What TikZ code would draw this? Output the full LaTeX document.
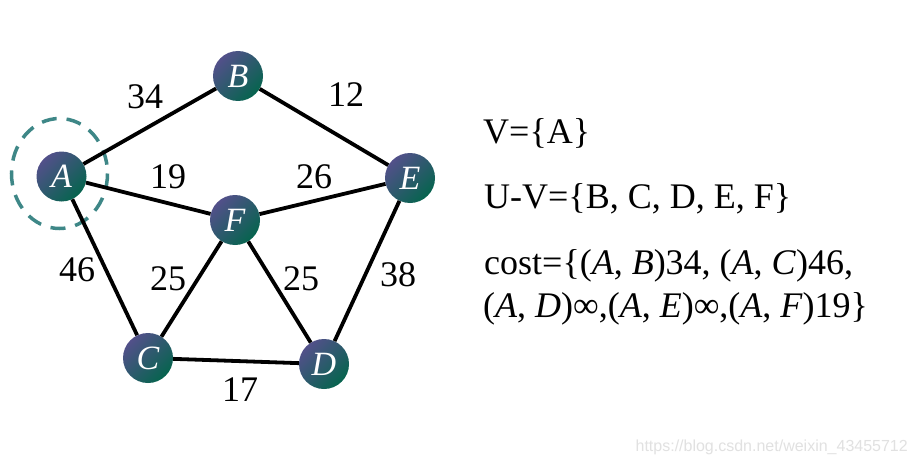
\documentclass[tikz,border=0pt]{standalone}
\usepackage{fontspec}
\setmainfont{Liberation Serif}
\newfontfamily\wmfont{Liberation Sans}
\definecolor{nodetop}{RGB}{82,80,138}
\definecolor{nodebot}{RGB}{6,100,78}
\definecolor{ringcol}{RGB}{62,135,135}
\definecolor{wmcol}{RGB}{225,225,225}
\tikzset{
  vert/.style={circle, minimum size=50pt, inner sep=0pt, top color=nodetop, bottom color=nodebot, shading angle=45, text=white, font=\fontsize{34}{38}\selectfont\itshape},
  edge/.style={line width=3.8pt, black},
  wlab/.style={inner sep=0pt, font=\fontsize{36}{40}\selectfont},
  info/.style={inner sep=0pt, anchor=base west, font=\fontsize{36}{40}\selectfont}
}
\begin{document}
\begin{tikzpicture}[x=1pt, y=-1pt]
\useasboundingbox (0,0) rectangle (917,468);
\fill[white] (0,0) rectangle (917,468);
% dashed ring
\draw[ringcol, line width=3.5pt, dash pattern=on 15pt off 10pt] (59.5,173.5) ellipse [x radius=48, y radius=55];
% vertices
\node[vert] (A) at (61.5,176.5) {A};
\node[vert] (B) at (238,76) {B};
\node[vert] (E) at (410,178) {E};
\node[vert] (F) at (235,220) {F};
\node[vert] (C) at (148,358) {C};
\node[vert] (D) at (324,364) {D};
% edges
\draw[edge] (A) -- (B);
\draw[edge] (B) -- (E);
\draw[edge] (A) -- (F);
\draw[edge] (F) -- (E);
\draw[edge] (A) -- (C);
\draw[edge] (F) -- (C);
\draw[edge] (F) -- (D);
\draw[edge] (C) -- (D);
\draw[edge] (E) -- (D);
% weights
\node[wlab] (w34) at (145,97) {34};
\node[wlab] (w12) at (346,95) {12};
\node[wlab] (w19) at (168,177) {19};
\node[wlab] (w26) at (314,177) {26};
\node[wlab] (w46) at (77,270) {46};
\node[wlab] (w25a) at (168,279) {25};
\node[wlab] (w25b) at (301,279) {25};
\node[wlab] (w38) at (398,275) {38};
\node[wlab] (w17) at (240,390) {17};
% info text
\node[info] (t1) at (483,143) {V=\{A\}};
\node[info] (t2) at (484,208) {U-V=\{B, C, D, E, F\}};
\node[info] (t3) at (484,274) {cost=\{(\textit{A}, \textit{B})34, (\textit{A}, \textit{C})46,};
\node[info] (t4) at (483,317) {(\textit{A}, \textit{D})∞,(\textit{A}, \textit{E})∞,(\textit{A}, \textit{F})19\}};
% watermark
\node[inner sep=0pt, anchor=base east, text=wmcol, font=\wmfont\fontsize{16}{19}\selectfont] (wm) at (908,451) {https://blog.csdn.net/weixin\_43455712};
\end{tikzpicture}
\end{document}
